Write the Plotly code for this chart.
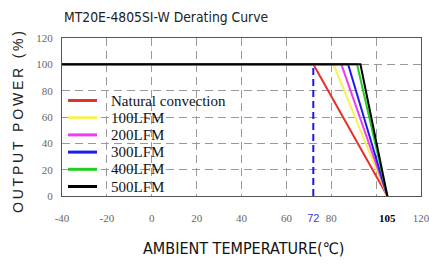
import plotly.graph_objects as go

# ---- data ----
series_names = ["Natural convection", "100LFM", "200LFM", "300LFM", "400LFM", "500LFM"]
series_colors = ["#e8302a", "#f7f25a", "#f03cf0", "#1c1cf0", "#22cc22", "#000000"]
derate_start = [72, 81, 84.5, 87.5, 91.5, 93]   # temperature where derating begins
t_min = -40
t_max = 105
full_power = 100
zero_power = 0
marker_temp = 72

x_tick_vals = [-40, -20, 0, 20, 40, 60, 72, 80, 105, 120]
x_tick_text = ["-40", "-20", "0", "20", "40", "60",
               "<span style='color:#3a3ad0;font-family:Liberation Sans, Arial'>72</span>",
               "80", "<b style='color:#000'>105</b>", "120"]
y_tick_vals = [0, 20, 40, 60, 80, 100, 120]

W, H = 429, 264
L, R, T, B = 62, 8, 38, 68
PW, PH = W - L - R, H - T - B


def px_x(px):
    return (px - L) / PW


def px_y(py):
    return (H - B - py) / PH


fig = go.Figure()

for name, col, ts in zip(series_names, series_colors, derate_start):
    fig.add_trace(go.Scatter(
        x=[t_min, ts, t_max], y=[full_power, full_power, zero_power],
        mode="lines", name=name, line=dict(color=col, width=2),
        showlegend=False, xaxis="x", yaxis="y"))

# blue dashed marker at 72
fig.add_trace(go.Scatter(
    x=[marker_temp, marker_temp], y=[zero_power, full_power],
    mode="lines", showlegend=False,
    line=dict(color="#1a1ae6", width=2, dash="7px,4px"),
    xaxis="x2", yaxis="y"))

grid = dict(showgrid=True, gridcolor="#9a9a9a", gridwidth=1, griddash="8px,5px")
serif = "Liberation Serif, Times New Roman, serif"
narrow = "Liberation Sans Narrow, Arial Narrow, DejaVu Sans Condensed, sans-serif"

# ---- legend (drawn as a key box in the lower-left of the plot) ----
shapes = [dict(type="rect", xref="paper", yref="paper", layer="between",
               x0=px_x(63), x1=px_x(230), y0=px_y(195.5), y1=px_y(93),
               fillcolor="white", line=dict(width=0))]
annotations = []
for i, (name, col) in enumerate(zip(series_names, series_colors)):
    cy = 100.5 + 17.2 * i
    shapes.append(dict(type="line", xref="paper", yref="paper", layer="above",
                       x0=px_x(68), x1=px_x(97), y0=px_y(cy), y1=px_y(cy),
                       line=dict(color=col, width=3)))
    annotations.append(dict(text=name, xref="paper", yref="paper",
                            x=px_x(109), y=px_y(cy), xanchor="left",
                            yanchor="middle", showarrow=False,
                            font=dict(family=serif, size=15, color="#111")))

annotations += [
    dict(text="MT20E-4805SI-W Derating Curve", xref="paper", yref="paper",
         x=0, y=px_y(17), xanchor="left", yanchor="middle",
         showarrow=False, font=dict(family=narrow, size=13.8, color="#222")),
    dict(text="AMBIENT TEMPERATURE(℃)", xref="paper", yref="paper",
         x=px_x(243), y=px_y(248), xanchor="center",
         yanchor="middle", showarrow=False,
         font=dict(family=narrow, size=16, color="#111")),
    dict(text="O\u2009U\u2009T\u2009P\u2009U\u2009T\u2009 \u2009P\u2009O\u2009W\u2009E\u2009R\u2009 \u2009(\u2009%\u2009)",
         xref="paper", yref="paper", x=px_x(18), y=px_y(122),
         textangle=-90, xanchor="center", yanchor="middle", showarrow=False,
         font=dict(family="Liberation Sans, Arial, sans-serif", size=14, color="#222")),
]

fig.update_layout(
    width=W, height=H,
    margin=dict(l=L, r=R, t=T, b=B, autoexpand=False),
    paper_bgcolor="white", plot_bgcolor="white",
    showlegend=False,
    xaxis=dict(range=[-40, 120], tick0=-40, dtick=20, showticklabels=False,
               zeroline=False, showline=True, linecolor="#555", linewidth=1,
               mirror=True, ticks="", automargin=False, **grid),
    xaxis2=dict(range=[-40, 120], overlaying="x", side="bottom",
                tickmode="array", tickvals=x_tick_vals, ticktext=x_tick_text,
                showgrid=False, zeroline=False, showline=False, ticks="",
                ticklabelstandoff=14, automargin=False, ticklabeloverflow="allow",
                tickfont=dict(family=serif, size=11, color="#666")),
    yaxis=dict(range=[0, 120], tickvals=y_tick_vals, zeroline=False,
               showline=True, linecolor="#555", linewidth=1, mirror=True,
               ticks="", ticklabelstandoff=6, automargin=False,
               ticklabeloverflow="allow",
               tickfont=dict(family=serif, size=11, color="#666"), **grid),
    shapes=shapes,
    annotations=annotations,
)

fig.write_html("out.html", config={"displayModeBar": False},
               post_script="document.body.style.margin='0';document.body.style.overflow='hidden';")
